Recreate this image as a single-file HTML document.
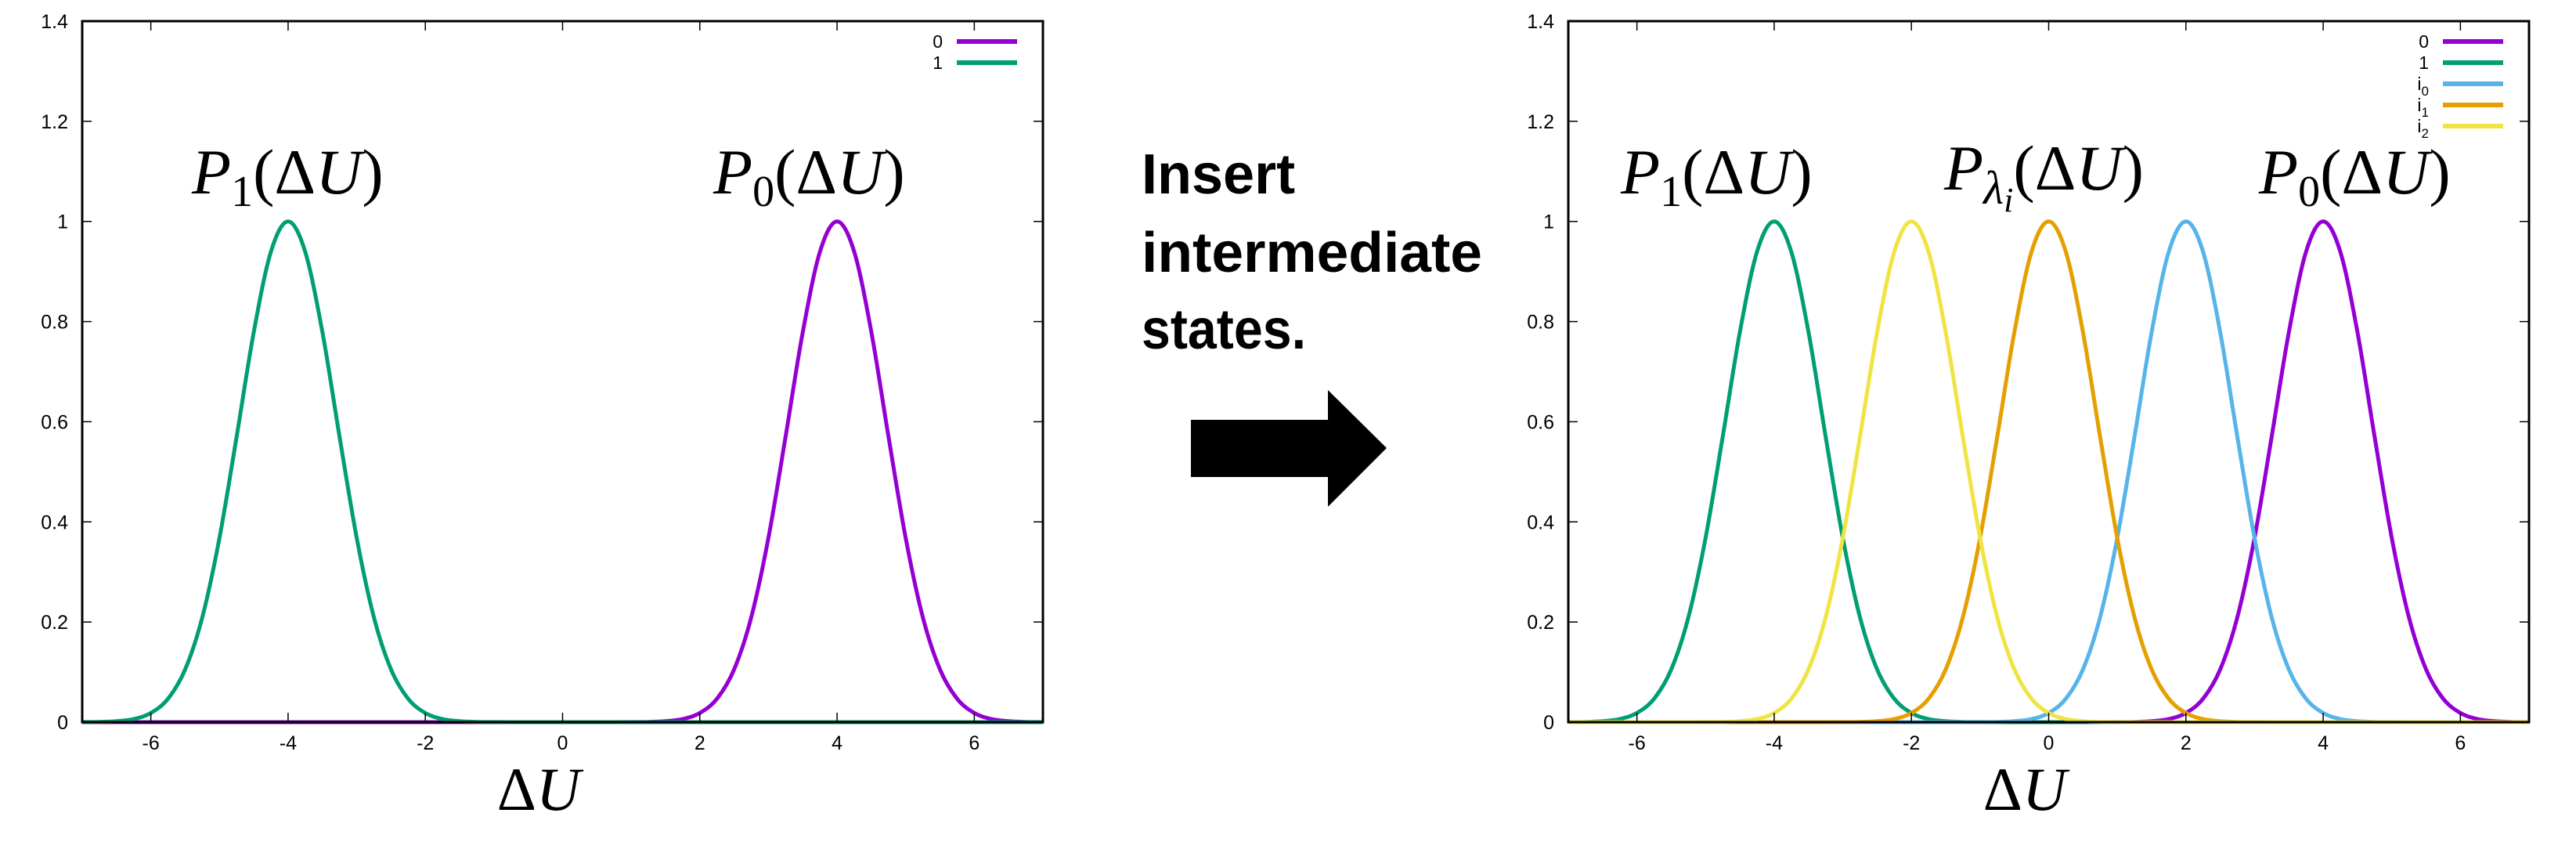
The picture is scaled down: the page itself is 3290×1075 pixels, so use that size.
<!DOCTYPE html>
<html><head><meta charset="utf-8"><style>
html,body{margin:0;padding:0;background:#fff;}
svg{display:block;}
</style></head><body>
<svg id="root" width="3290" height="1075" viewBox="0 0 3290 1075" xmlns="http://www.w3.org/2000/svg">
  <rect x="0" y="0" width="3290" height="1075" fill="#fff"/>
  <g id="left-chart"></g>
  <g id="right-chart"></g>
  <g font-family="Liberation Sans, DejaVu Sans, sans-serif" font-weight="bold" font-size="72" fill="#000">
    <text x="1458" y="247">Insert</text>
    <text x="1458" y="347" textLength="435" lengthAdjust="spacingAndGlyphs">intermediate</text>
    <text x="1458" y="445" textLength="210" lengthAdjust="spacingAndGlyphs">states.</text>
  </g>
  <polygon points="1521,536 1696,536 1696,498 1771,572 1696,647 1696,609 1521,609" fill="#000"/>
</svg>
<script>
// shared x grid (ΔU)
const xs = [];
for (let i = 0; i <= 56; i++) xs.push(-7 + i * 0.25);
const xTicks = [-6, -4, -2, 0, 2, 4, 6];
const yTicks = [0, 0.2, 0.4, 0.6, 0.8, 1, 1.2, 1.4];
const yTickLabels = ["0", "0.2", "0.4", "0.6", "0.8", "1", "1.2", "1.4"];
const xTickLabels = ["-6", "-4", "-2", "0", "2", "4", "6"];
const s0 = [0,0,0,0,0,0,0,0,0,0,0,0,0,0,0,0,0,0,0,0,0,0,0,0,0,0,0,0,0,0,0,0,
  0.0001,0.0005,0.0019,0.0063,0.0183,0.0468,0.1054,0.2096,0.3679,0.5698,0.7788,0.9394,1,0.9394,0.7788,0.5698,0.3679,0.2096,0.1054,0.0468,0.0183,0.0063,0.0019,0.0005,0.0001];
const s1 = [0.0001,0.0005,0.0019,0.0063,0.0183,0.0468,0.1054,0.2096,0.3679,0.5698,0.7788,0.9394,1,0.9394,0.7788,0.5698,0.3679,0.2096,0.1054,0.0468,0.0183,0.0063,0.0019,0.0005,0.0001,
  0,0,0,0,0,0,0,0,0,0,0,0,0,0,0,0,0,0,0,0,0,0,0,0,0,0,0,0,0,0,0,0];
const si2 = [0,0,0,0,0,0,0,0,
  0.0001,0.0005,0.0019,0.0063,0.0183,0.0468,0.1054,0.2096,0.3679,0.5698,0.7788,0.9394,1,0.9394,0.7788,0.5698,0.3679,0.2096,0.1054,0.0468,0.0183,0.0063,0.0019,0.0005,0.0001,
  0,0,0,0,0,0,0,0,0,0,0,0,0,0,0,0,0,0,0,0,0,0,0,0];
const si1 = [0,0,0,0,0,0,0,0,0,0,0,0,0,0,0,0,
  0.0001,0.0005,0.0019,0.0063,0.0183,0.0468,0.1054,0.2096,0.3679,0.5698,0.7788,0.9394,1,0.9394,0.7788,0.5698,0.3679,0.2096,0.1054,0.0468,0.0183,0.0063,0.0019,0.0005,0.0001,
  0,0,0,0,0,0,0,0,0,0,0,0,0,0,0,0];
const si0 = [0,0,0,0,0,0,0,0,0,0,0,0,0,0,0,0,0,0,0,0,0,0,0,0,
  0.0001,0.0005,0.0019,0.0063,0.0183,0.0468,0.1054,0.2096,0.3679,0.5698,0.7788,0.9394,1,0.9394,0.7788,0.5698,0.3679,0.2096,0.1054,0.0468,0.0183,0.0063,0.0019,0.0005,0.0001,
  0,0,0,0,0,0,0,0];
const seriesNames = ["0", "1", "i0", "i1", "i2"];
const seriesColors = {"0":"#9400d3","1":"#009e73","i0":"#56b4e9","i1":"#e69f00","i2":"#f0e442"};
const seriesData = {"0":s0,"1":s1,"i0":si0,"i1":si1,"i2":si2};

const NS = "http://www.w3.org/2000/svg";
function mk(tag, attrs, parent) {
  const e = document.createElementNS(NS, tag);
  for (const k in attrs) e.setAttribute(k, attrs[k]);
  parent.appendChild(e);
  return e;
}
function smoothPath(pts) {
  let d = "M" + pts[0][0].toFixed(1) + "," + pts[0][1].toFixed(1);
  for (let i = 0; i < pts.length - 1; i++) {
    const p0 = pts[Math.max(0, i - 1)], p1 = pts[i], p2 = pts[i + 1], p3 = pts[Math.min(pts.length - 1, i + 2)];
    const c1x = p1[0] + (p2[0] - p0[0]) / 6, c1y = p1[1] + (p2[1] - p0[1]) / 6;
    const c2x = p2[0] - (p3[0] - p1[0]) / 6, c2y = p2[1] - (p3[1] - p1[1]) / 6;
    d += "C" + c1x.toFixed(1) + "," + c1y.toFixed(1) + " " + c2x.toFixed(1) + "," + c2y.toFixed(1) + " " + p2[0].toFixed(1) + "," + p2[1].toFixed(1);
  }
  return d;
}

function drawChart(g, L, names, labels) {
  const T = 27, B = 922, R = L + 1227;
  const sx = v => L + (v + 7) / 14 * (R - L);
  const sy = v => B - v / 1.4 * (B - T);
  names.forEach(n => {
    const pts = xs.map((x, i) => [sx(x), sy(seriesData[n][i])]);
    const p = mk("path", {d: smoothPath(pts), fill: "none", stroke: seriesColors[n], "stroke-width": 5, "stroke-linejoin": "round"}, g);
    
    
  });
  const fr = mk("rect", {x: L, y: T, width: R - L, height: B - T, fill: "none", stroke: "#000", "stroke-width": 3}, g);
  
  
  yTicks.forEach((v, i) => {
    const y = sy(v);
    mk("line", {x1: L, x2: L + 12, y1: y, y2: y, stroke: "#000", "stroke-width": 1.5}, g);
    mk("line", {x1: R, x2: R - 12, y1: y, y2: y, stroke: "#000", "stroke-width": 1.5}, g);
    const t = mk("text", {x: L - 18, y: y + 9, "text-anchor": "end", "font-size": 25, "font-family": "Liberation Sans, sans-serif"}, g);
    t.textContent = yTickLabels[i];
    
    
  });
  xTicks.forEach((v, i) => {
    const x = sx(v);
    mk("line", {x1: x, x2: x, y1: B, y2: B - 12, stroke: "#000", "stroke-width": 1.5}, g);
    mk("line", {x1: x, x2: x, y1: T, y2: T + 12, stroke: "#000", "stroke-width": 1.5}, g);
    const t = mk("text", {x: x, y: 957, "text-anchor": "middle", "font-size": 25, "font-family": "Liberation Sans, sans-serif"}, g);
    t.textContent = xTickLabels[i];
    
    
  });
  names.forEach((n, i) => {
    const y = 53 + i * 27;
    const ln = mk("line", {x1: R - 110, x2: R - 33, y1: y, y2: y, stroke: seriesColors[n], "stroke-width": 6}, g);
    
    
    const t = mk("text", {x: R - 128, y: y + 8, "text-anchor": "end", "font-size": 23, "font-family": "Liberation Sans, sans-serif"}, g);
    if (n.length > 1) {
      t.textContent = n[0];
      const s = mk("tspan", {"font-size": 17, dy: 7}, t);
      s.textContent = n[1];
    } else t.textContent = n;
    
    
  });
  const xt = mk("text", {x: L + 583, y: 1034, "text-anchor": "middle", "font-size": 78, "font-family": "Liberation Serif, serif"}, g);
  xt.innerHTML = 'Δ<tspan font-style="italic">U</tspan>';
  
  
  labels.forEach(lb => {
    const t = mk("text", {x: lb.x, y: lb.y, "font-size": 82, "font-family": "Liberation Serif, serif"}, g);
    t.innerHTML = lb.html;
    
    
  });
}

const P1 = '<tspan font-style="italic">P</tspan><tspan font-size="56" dy="16">1</tspan><tspan dy="-16">(Δ</tspan><tspan font-style="italic">U</tspan>)';
const P0 = '<tspan font-style="italic">P</tspan><tspan font-size="56" dy="16">0</tspan><tspan dy="-16">(Δ</tspan><tspan font-style="italic">U</tspan>)';
const PL = '<tspan font-style="italic">P</tspan><tspan font-size="60" font-style="italic" dy="18">λ</tspan><tspan font-size="44" font-style="italic" dy="10">i</tspan><tspan dy="-28">(Δ</tspan><tspan font-style="italic">U</tspan>)';

drawChart(document.getElementById("left-chart"), 105, ["0", "1"], [
  {x: 245, y: 247, html: P1, name: "label-p1"},
  {x: 911, y: 247, html: P0, name: "label-p0"}
]);
drawChart(document.getElementById("right-chart"), 2003, seriesNames, [
  {x: 2070, y: 247, html: P1, name: "label-p1"},
  {x: 2483, y: 242, html: PL, name: "label-p-lambda-i"},
  {x: 2885, y: 247, html: P0, name: "label-p0"}
]);
</script>
</body></html>
